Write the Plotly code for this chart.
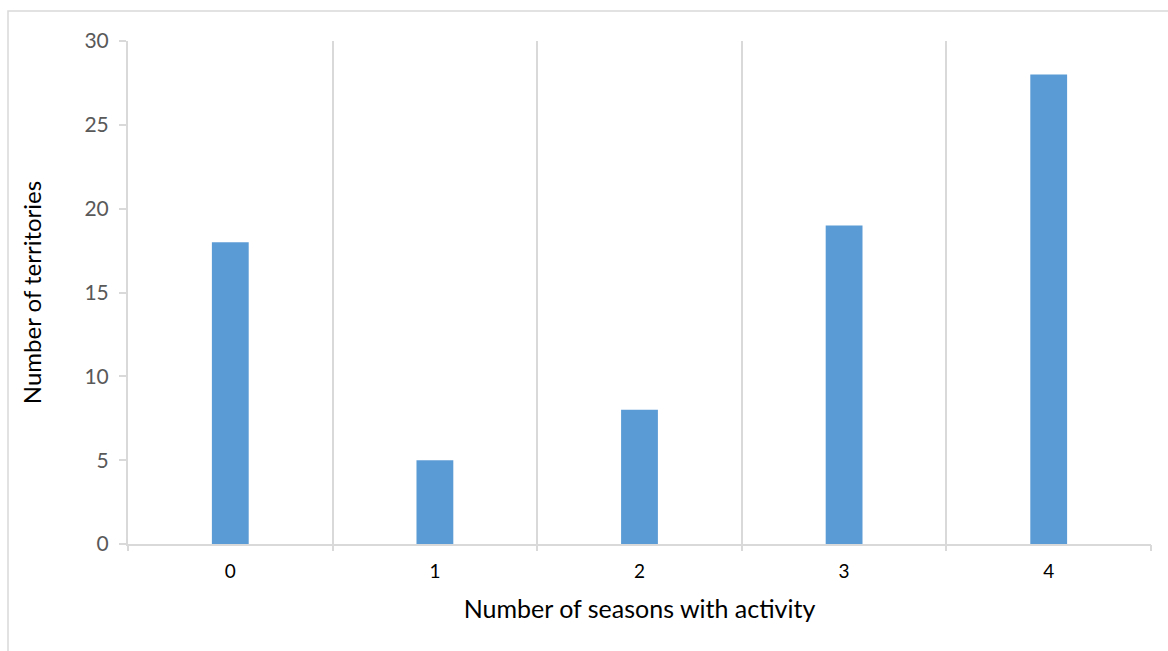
import plotly.graph_objects as go

# Territories grouped by number of seasons with recorded activity
seasons = [0, 1, 2, 3, 4]
season_labels = ["0", "1", "2", "3", "4"]
territories = [18, 5, 8, 19, 28]

# Category boundaries used for the vertical separators
boundaries = [-0.5, 0.5, 1.5, 2.5, 3.5, 4.5]

BAR = "#5B9BD5"
GRID = "#d9d9d9"
FONT = "Lato, Calibri, 'Open Sans', sans-serif"

fig = go.Figure()
fig.add_trace(go.Bar(
    x=seasons, y=territories, width=0.18,
    marker=dict(color=BAR, line=dict(width=0)),
    hoverinfo="x+y", showlegend=False,
))

fig.update_layout(
    width=1168, height=651,
    margin=dict(l=128, r=17, t=41, b=107),
    paper_bgcolor="white", plot_bgcolor="white",
    font=dict(family=FONT, color="#000000"),
    xaxis=dict(
        range=[-0.5, 4.5], tickmode="array", tickvals=seasons, ticktext=season_labels,
        ticks="", showgrid=False, zeroline=False, showline=True, linecolor=GRID, linewidth=2,
        tickfont=dict(size=19, color="#000000"), ticklabelstandoff=9,
        title=dict(text="Number of seasons with activity", font=dict(size=25, color="#000000"), standoff=20),
    ),
    xaxis2=dict(
        overlaying="x", matches="x", side="bottom", tickmode="array", tickvals=boundaries,
        showticklabels=False, ticks="outside", ticklen=6, tickcolor=GRID, tickwidth=2,
        showgrid=True, gridcolor=GRID, gridwidth=2, zeroline=False, showline=False,
    ),
    yaxis=dict(
        range=[0, 30], dtick=5, showgrid=False, zeroline=False,
        showline=True, linecolor=GRID, linewidth=2,
        ticks="outside", ticklen=7, tickcolor=GRID, tickwidth=2,
        tickfont=dict(size=21, color="#595959"), ticklabelstandoff=6,
        title=dict(text="Number of territories", font=dict(size=24, color="#000000"), standoff=36),
    ),
    shapes=[dict(
        type="rect", xref="paper", yref="paper",
        x0=(8 - 128) / 1023, x1=(1175 - 128) / 1023,
        y0=(544 - 660) / 503, y1=(544 - 11) / 503,
        line=dict(color=GRID, width=1.5), fillcolor="rgba(0,0,0,0)", layer="below",
    )],
)

# Invisible companion trace so the separator axis is drawn
fig.add_trace(go.Scatter(x=[boundaries[0], boundaries[-1]], y=[0, 0], xaxis="x2",
                         mode="markers", marker=dict(opacity=0), hoverinfo="skip", showlegend=False))

fig.write_html("out.html")
